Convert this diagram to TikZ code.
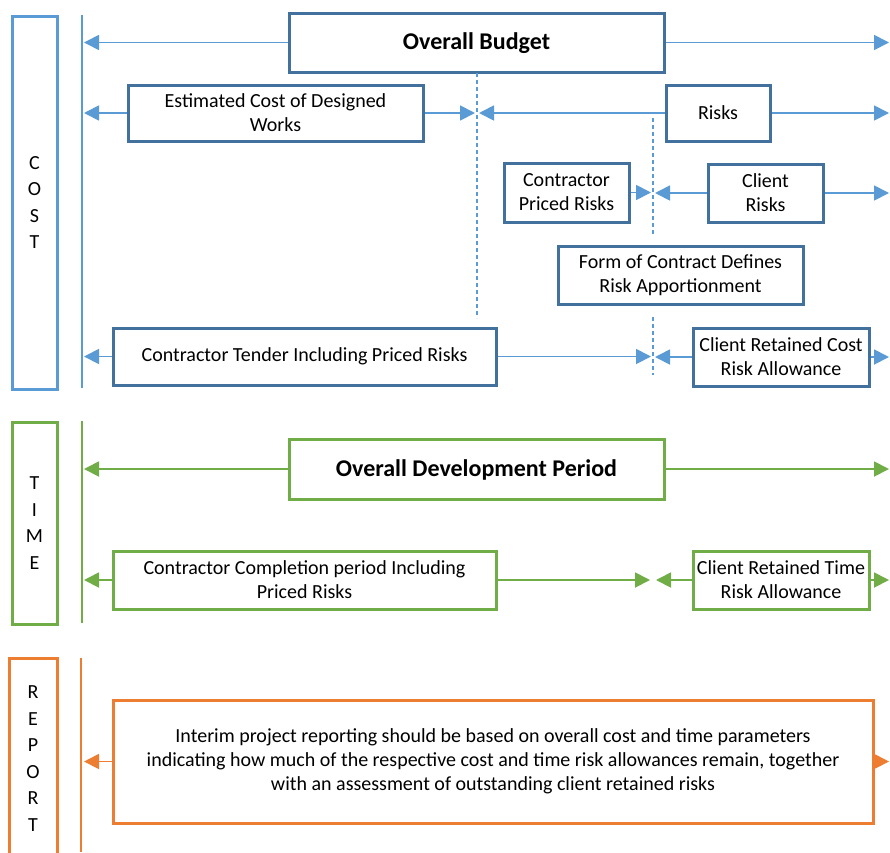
\documentclass[tikz,border=0pt]{standalone}
\usepackage{fontspec}
\setmainfont{Carlito}
\usetikzlibrary{arrows.meta,positioning}

\definecolor{costblue}{HTML}{5B9BD5}
\definecolor{costdark}{HTML}{41719C}
\definecolor{timegreen}{HTML}{70AD47}
\definecolor{reportorange}{HTML}{ED7D31}

\tikzset{
  box/.style={draw, line width=3pt, fill=white, inner sep=0pt, align=center,
    font=\fontsize{20}{24}\selectfont},
  costbox/.style={box, draw=costdark},
  timebox/.style={box, draw=timegreen},
  reportbox/.style={box, draw=reportorange},
  titlebox/.style={text depth=2pt, font=\fontsize{24}{28}\selectfont\bfseries},
  sidebox/.style={draw, line width=3pt, inner sep=0pt, align=center,
    minimum width=45pt, font=\fontsize{20}{26.5}\selectfont},
  link/.style={line width=1.8pt, -{Triangle[length=15pt,width=15pt]}, shorten >=1pt},
  costlink/.style={link, costblue},
  timelink/.style={link, timegreen},
  reportlink/.style={link, reportorange},
  split/.style={costblue, line width=1.2pt, dash pattern=on 4pt off 3pt}
}

\begin{document}
\begin{tikzpicture}[x=1pt,y=-1pt]
  \useasboundingbox (0,0) rectangle (890,852);

  % reference lines
  \coordinate (costline) at (83,0);
  \coordinate (rightedge) at (890,0);
  \coordinate (splitA) at (477,0);
  \coordinate (splitB) at (653,0);

  % ---------------- COST ----------------
  \node[sidebox, draw=costblue, minimum height=373pt] (cost) at (34.5,202.5) {C\\O\\S\\T};
  \draw[costblue, line width=1.6pt] (82,15) -- (82,388);

  \node[costbox, titlebox, minimum width=375pt, minimum height=59pt] (budget) at (476.5,42.5)
    {Overall Budget};
  \node[costbox, minimum width=295pt, minimum height=56pt] (designed) at (275.5,113)
    {Estimated Cost of Designed\\Works};
  \node[costbox, minimum width=104pt, minimum height=56pt] (risks) at (718,113) {Risks};
  \node[costbox, minimum width=125pt, minimum height=59pt] (contrisks) at (566.5,192.5)
    {Contractor\\Priced Risks};
  \node[costbox, minimum width=115pt, minimum height=58pt] (clientrisks) at (765.5,193)
    {Client\\Risks};
  \node[costbox, minimum width=245pt, minimum height=58pt] (form) at (680.5,275)
    {Form of Contract Defines\\Risk Apportionment};
  \node[costbox, minimum width=383pt, minimum height=57pt] (tender) at (304.5,356.5)
    {Contractor Tender Including Priced Risks};
  \node[costbox, minimum width=176pt, minimum height=58pt] (costallow) at (781,357)
    {Client Retained Cost\\Risk Allowance};

  % apportionment split lines
  \draw[split] (477,73) -- (477,318);
  \draw[split] (653,118) -- (653,235);
  \draw[split] (653,317) -- (653,375);

  \draw[costlink] (budget.west) -- (budget.west -| costline);
  \draw[costlink] (budget.east) -- (budget.east -| rightedge);
  \draw[costlink] (designed.west) -- (designed.west -| costline);
  \draw[costlink] (designed.east) -- ([xshift=-1pt]designed.east -| splitA);
  \draw[costlink] (risks.west) -- ([xshift=1pt]risks.west -| splitA);
  \draw[costlink] (risks.east) -- (risks.east -| rightedge);
  \draw[costlink] (contrisks.east) -- ([xshift=-1pt]contrisks.east -| splitB);
  \draw[costlink] (clientrisks.west) -- ([xshift=1pt]clientrisks.west -| splitB);
  \draw[costlink] (clientrisks.east) -- (clientrisks.east -| rightedge);
  \draw[costlink] (tender.west) -- (tender.west -| costline);
  \draw[costlink] (tender.east) -- ([xshift=-1pt]tender.east -| splitB);
  \draw[costlink] (costallow.west) -- ([xshift=1pt]costallow.west -| splitB);
  \draw[costlink] (costallow.east) -- (costallow.east -| rightedge);

  % ---------------- TIME ----------------
  \node[sidebox, draw=timegreen, minimum height=202pt] (time) at (34.5,523) {T\\I\\M\\E};
  \draw[timegreen, line width=1.6pt] (82,421) -- (82,623);

  \node[timebox, titlebox, minimum width=375pt, minimum height=60pt] (period) at (476.5,469)
    {Overall Development Period};
  \node[timebox, minimum width=383pt, minimum height=58pt] (completion) at (304.5,580)
    {Contractor Completion period Including\\Priced Risks};
  \node[timebox, minimum width=176pt, minimum height=58pt] (timeallow) at (781,580)
    {Client Retained Time\\Risk Allowance};

  \draw[timelink] (period.west) -- (period.west -| costline);
  \draw[timelink] (period.east) -- (period.east -| rightedge);
  \draw[timelink] (completion.west) -- (completion.west -| costline);
  \draw[timelink] (completion.east) -- ([xshift=-2pt]completion.east -| splitB);
  \draw[timelink] (timeallow.west) -- ([xshift=2pt]timeallow.west -| splitB);
  \draw[timelink] (timeallow.east) -- (timeallow.east -| rightedge);

  % ---------------- REPORT ----------------
  \node[sidebox, draw=reportorange, minimum width=48pt, minimum height=200pt, anchor=north]
    (report) at (33,657) {R\\E\\P\\O\\R\\T};
  \draw[reportorange, line width=1.6pt] (81,658) -- (81,852);

  \node[reportbox, minimum width=760pt, minimum height=123pt] (interim) at (493,761.5)
    {Interim project reporting should be based on overall cost and time parameters\\
     indicating how much of the respective cost and time risk allowances remain, together\\
     with an assessment of outstanding client retained risks};

  \draw[reportlink] (interim.west) -- (interim.west -| costline);
  \draw[reportlink] (interim.east) -- (interim.east -| rightedge);
\end{tikzpicture}
\end{document}
